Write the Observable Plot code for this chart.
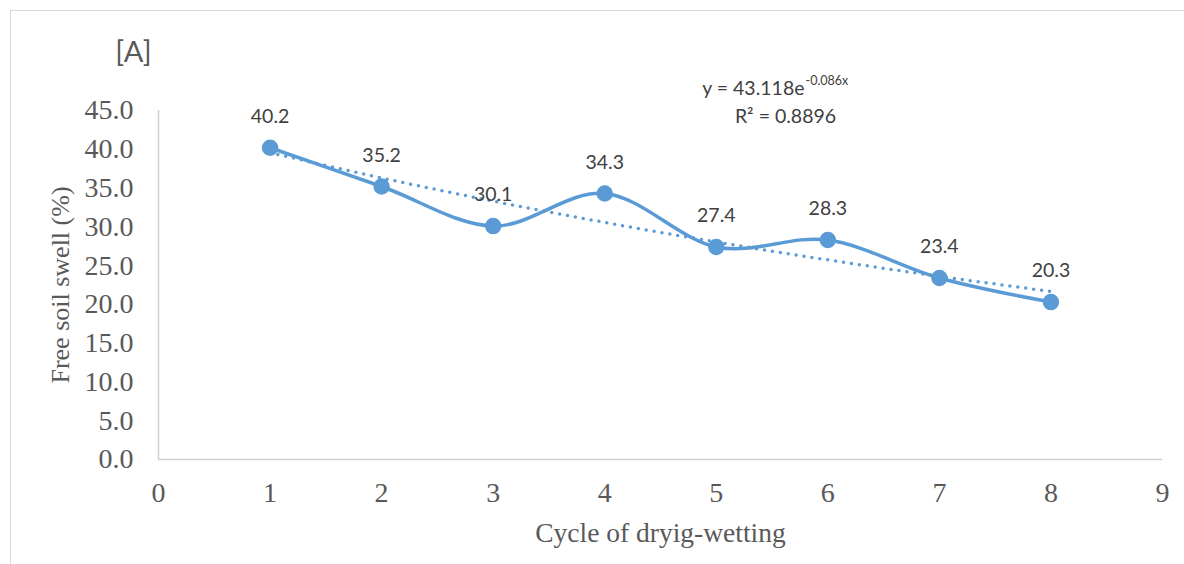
<!DOCTYPE html>
<html>
<head>
<meta charset="utf-8">
<script src="https://cdn.jsdelivr.net/npm/d3@7"></script>
<script src="https://cdn.jsdelivr.net/npm/@observablehq/plot@0.6"></script>
<style>
  html, body { margin: 0; padding: 0; background: #fff; }
  #wrap { position: relative; width: 1184px; height: 564px; overflow: hidden; }
  #frame { position: absolute; left: 10px; top: 10px; width: 1200px; height: 600px;
           border-left: 1.5px solid #d9d9d9; border-top: 1.5px solid #d9d9d9; pointer-events: none; }
</style>
</head>
<body>
<div id="wrap"><div id="frame"></div></div>
<script>
// ---- data ----
const cycles = [1, 2, 3, 4, 5, 6, 7, 8];
const swell = [40.2, 35.2, 30.1, 34.3, 27.4, 28.3, 23.4, 20.3];
const xTicks = [0, 1, 2, 3, 4, 5, 6, 7, 8, 9];
const yTicks = [0, 5, 10, 15, 20, 25, 30, 35, 40, 45];
const trendA = 43.118;   // from the chart's equation
const trendB = -0.086;
const equationMain = "y = 43.118e";
const equationExp = "-0.086x";
const rSquared = "R² = 0.8896";
const panelLabel = "[A]";
const xTitle = "Cycle of dryig-wetting";
const yTitle = "Free soil swell (%)";

const rows = cycles.map((c, i) => ({cycle: c, swell: swell[i]}));
const trend = cycles.map(c => ({cycle: c, swell: trendA * Math.exp(trendB * c)}));

const blue = "#5B9BD5";
const serif = "'Liberation Serif', 'Times New Roman', serif";
const sans = "Lato, 'Open Sans', sans-serif";

const chart = Plot.plot({
  width: 1184,
  height: 564,
  marginLeft: 158,
  marginRight: 22,
  marginTop: 110,
  marginBottom: 105,
  style: {background: "transparent", overflow: "visible"},
  x: {domain: [0, 9]},
  y: {domain: [0, 45]},
  marks: [
    Plot.ruleX([0], {y1: 0, y2: 45, stroke: "#d0d0d0", strokeWidth: 1.5}),
    Plot.ruleY([0], {x1: 0, x2: 9, stroke: "#d0d0d0", strokeWidth: 1.5}),
    Plot.axisY({ticks: yTicks, tickSize: 0, tickPadding: 25, tickFormat: d => d.toFixed(1),
      fontSize: 28, fontFamily: serif, fill: "#595959", label: null}),
    Plot.axisX({ticks: xTicks, tickSize: 0, tickPadding: 23, tickFormat: d => String(d),
      fontSize: 28, fontFamily: serif, fill: "#595959", label: null}),
    Plot.text([xTitle], {frameAnchor: "bottom", dy: 74, lineAnchor: "middle", textAnchor: "middle",
      text: d => d, fontSize: 27.5, fontFamily: serif, fill: "#595959"}),
    Plot.text([yTitle], {frameAnchor: "left", dx: -98, rotate: -90, lineAnchor: "middle",
      textAnchor: "middle", text: d => d, fontSize: 26, fontFamily: serif, fill: "#595959"}),
    Plot.line(trend, {x: "cycle", y: "swell", curve: "monotone-x", stroke: blue, strokeWidth: 3.5,
      strokeDasharray: "0 8", strokeLinecap: "round"}),
    Plot.line(rows, {x: "cycle", y: "swell", curve: "cardinal", stroke: blue, strokeWidth: 3.5}),
    Plot.dot(rows, {x: "cycle", y: "swell", r: 7.5, fill: blue, stroke: blue}),
    Plot.text(rows, {x: "cycle", y: "swell", text: d => d.swell.toFixed(1), dy: -31,
      fontSize: 19.5, fontFamily: sans, fill: "#404040"}),
    Plot.text([equationMain], {frameAnchor: "top-left", dx: 646, dy: -22, textAnchor: "end",
      lineAnchor: "middle", text: d => d, fontSize: 19.5, fontFamily: sans, fill: "#404040"}),
    Plot.text([equationExp], {frameAnchor: "top-left", dx: 647, dy: -30, textAnchor: "start",
      lineAnchor: "middle", text: d => d, fontSize: 12.5, fontFamily: sans, fill: "#404040"}),
    Plot.text([rSquared], {frameAnchor: "top-left", dx: 627, dy: 6, textAnchor: "middle",
      lineAnchor: "middle", text: d => d, fontSize: 19.5, fontFamily: sans, fill: "#404040"}),
    Plot.text([panelLabel], {frameAnchor: "top-left", dx: -25, dy: -58, textAnchor: "middle",
      lineAnchor: "middle", text: d => d, fontSize: 29, fontFamily: sans, fill: "#595959"})
  ]
});
chart.style.position = "absolute";
chart.style.left = "0px";
chart.style.top = "0px";
document.getElementById("wrap").appendChild(chart);
</script>
</body>
</html>
